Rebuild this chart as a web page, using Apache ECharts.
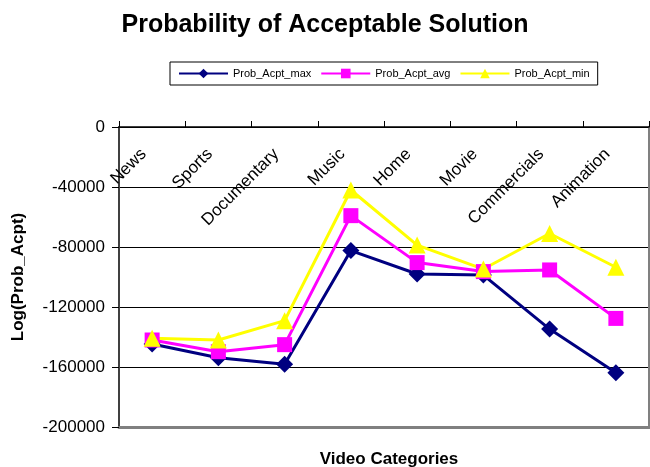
<!DOCTYPE html>
<html>
<head>
<meta charset="utf-8">
<script src="https://cdn.jsdelivr.net/npm/echarts@6/dist/echarts.min.js"></script>
<style>
  html, body { margin: 0; padding: 0; background: #fff; }
  #chart { width: 650px; height: 467px; }
</style>
</head>
<body>
<div id="chart"></div>
<script>
// Video categories along the category axis
const categories = ['News', 'Sports', 'Documentary', 'Music', 'Home', 'Movie', 'Commercials', 'Animation'];

// Log of the acceptance probability per category
const probAcptMax = [-144700, -153800, -158200, -82400, -98000, -98700, -134700, -163800];
const probAcptAvg = [-142000, -149800, -145100, -59100, -90400, -96400, -95300, -127600];
const probAcptMin = [-140900, -142000, -129100, -42000, -78700, -94700, -71000, -93500];

// Value axis range and step
const yMin = -200000;
const yMax = 0;
const yStep = 40000;

const FONT = '"Liberation Sans", Arial, sans-serif';

const chart = echarts.init(document.getElementById('chart'), null, { renderer: 'canvas' });

function lineSeries(name, data, color, symbol, size) {
  return {
    name: name,
    type: 'line',
    data: data,
    xAxisIndex: 0,
    yAxisIndex: 0,
    symbol: symbol,
    symbolSize: size,
    lineStyle: { color: color, width: 3 },
    itemStyle: { color: color },
    emphasis: { disabled: true },
    animation: false,
    z: 5
  };
}

chart.setOption({
  animation: false,
  backgroundColor: '#fff',
  title: [
    {
      text: 'Probability of Acceptable Solution',
      left: 'center',
      top: 8,
      textStyle: { fontFamily: FONT, fontSize: 25, fontWeight: 'bold', color: '#000' }
    },
    {
      text: 'Video Categories',
      left: 384,
      textAlign: 'center',
      top: 446,
      textStyle: { fontFamily: FONT, fontSize: 17, fontWeight: 'bold', color: '#000' }
    }
  ],
  legend: {
    left: 170,
    top: 62,
    padding: [6, 8, 6, 8],
    itemGap: 9,
    itemWidth: 49,
    itemHeight: 12,
    backgroundColor: '#fff',
    borderColor: '#000',
    borderWidth: 1,
    borderRadius: 0,
    textStyle: { fontFamily: FONT, fontSize: 11, color: '#000' },
    data: ['Prob_Acpt_max', 'Prob_Acpt_avg', 'Prob_Acpt_min']
  },
  grid: { left: 119, right: 1, top: 127, bottom: 40, containLabel: false, outerBoundsMode: 'none' },
  xAxis: [
    {
      type: 'category',
      data: categories,
      position: 'top',
      boundaryGap: true,
      axisLine: { onZero: false, lineStyle: { color: '#000', width: 1.5 } },
      axisTick: { show: true, inside: false, length: 6, lineStyle: { color: '#000' } },
      axisLabel: {
        inside: true,
        rotate: -45,
        margin: 16,
        padding: [0, 12, 0, 0],
        fontFamily: FONT,
        fontSize: 17,
        color: '#000',
        interval: 0,
        hideOverlap: false
      },
      splitLine: { show: false },
      z: 3
    },
    {
      type: 'category',
      data: categories,
      position: 'bottom',
      axisLine: { onZero: false, lineStyle: { color: '#808080', width: 3 } },
      axisTick: { show: false },
      axisLabel: { show: false },
      splitLine: { show: false }
    }
  ],
  yAxis: [
    {
      type: 'value',
      min: yMin,
      max: yMax,
      interval: yStep,
      position: 'left',
      axisLine: { show: true, lineStyle: { color: '#404040', width: 2 } },
      axisTick: { show: true, length: 7, lineStyle: { color: '#000' } },
      axisLabel: {
        fontFamily: FONT, fontSize: 17, color: '#000', margin: 14,
        formatter: function (v) { return String(v); }
      },
      splitLine: { show: true, lineStyle: { color: '#000', width: 1 } },
      name: 'Log(Prob_Acpt)',
      nameLocation: 'middle',
      nameGap: 92,
      nameTextStyle: { fontFamily: FONT, fontSize: 17, fontWeight: 'bold', color: '#000' }
    },
    {
      type: 'value',
      min: yMin,
      max: yMax,
      interval: yStep,
      position: 'right',
      axisLine: { show: true, lineStyle: { color: '#808080', width: 3 } },
      axisTick: { show: false },
      axisLabel: { show: false },
      splitLine: { show: false }
    }
  ],
  series: [
    lineSeries('Prob_Acpt_max', probAcptMax, '#000080', 'diamond', 17),
    lineSeries('Prob_Acpt_avg', probAcptAvg, '#FF00FF', 'rect', 15),
    lineSeries('Prob_Acpt_min', probAcptMin, '#FFFF00', 'triangle', 17)
  ]
});
</script>
</body>
</html>
